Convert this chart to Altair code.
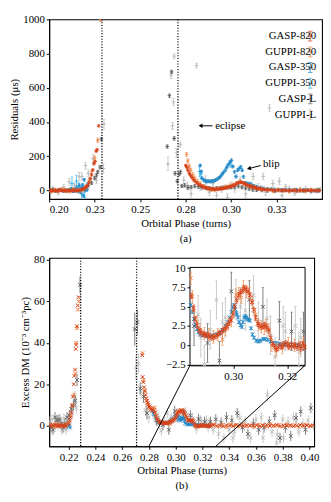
import altair as alt
import pandas as pd

SERIF = "Liberation Serif"
SERIES = ["GASP-820", "GUPPI-820", "GASP-350", "GUPPI-350", "GASP-L", "GUPPI-L"]
COLORS = ["#d4401a", "#f0894a", "#1f86c6", "#45baeb", "#5e5e5e", "#bcbcbc"]
DRAW_ORDER = ["GUPPI-L", "GASP-L", "GUPPI-350", "GASP-350", "GUPPI-820", "GASP-820"]

# ---------------- panel (a): timing residuals (us) ----------------
a_gasp820_x = [0.2005, 0.2015, 0.2025, 0.2035, 0.2045, 0.2055, 0.2065, 0.2075, 0.2085, 0.2095,
               0.2105, 0.2115, 0.2125, 0.2135, 0.2145, 0.2155, 0.2165, 0.2175,
               0.2183, 0.2190, 0.2197, 0.2204, 0.2211, 0.2218, 0.2226, 0.2233, 0.2240, 0.2246,
               0.2252, 0.2258, 0.2263, 0.2272,
               0.2751, 0.2757, 0.2763, 0.2770, 0.2777, 0.2785, 0.2793, 0.2802, 0.2812, 0.2822,
               0.2832, 0.2842, 0.2852, 0.2862, 0.2872, 0.2882, 0.2892, 0.2902, 0.2912, 0.2922,
               0.2932, 0.2942, 0.2952, 0.2962, 0.2972, 0.2982, 0.2992, 0.3002, 0.3012, 0.3022,
               0.3032, 0.3042, 0.3052, 0.3062, 0.3072, 0.3082, 0.3092, 0.3102, 0.3112, 0.3122,
               0.3132, 0.3142, 0.3152, 0.3162, 0.3172,
               0.3185, 0.3200, 0.3215, 0.3230, 0.3245, 0.3260, 0.3275, 0.3290, 0.3305, 0.3320,
               0.3335, 0.3350, 0.3365, 0.3380, 0.3395, 0.3410, 0.3425, 0.3440, 0.3455, 0.3470, 0.3485]
a_gasp820_v = [2, -3, 1, 0, -2, 3, -1, 0, 2, -4, 1, 0, -2, 3, 0, -1, 2, 4,
               6, 10, 15, 22, 30, 48, 70, 91, 120, 156, 170, 230, 238, 378,
               146, 135, 118, 100, 88, 75, 62, 54, 44, 36, 30, 25, 20, 17, 14, 11, 9, 7, 7, 8,
               9, 10, 12, 14, 16, 18, 21, 25, 28, 36, 42, 46, 48, 46, 42, 36, 31, 27, 24, 21,
               17, 13, 11, 9, 7,
               5, 3, 4, 2, 1, 3, 0, 2, -1, 1, 0, 2, -2, 1, 0, -1, 2, 0, 1, -1, 0]
a_gasp820_e = 6

a_guppi820_x = [0.2010, 0.2030, 0.2050, 0.2070, 0.2090, 0.2110, 0.2130, 0.2150, 0.2170, 0.2190,
                0.2205, 0.2222, 0.2233, 0.2250, 0.2267, 0.2283,
                0.2755, 0.2762, 0.2770, 0.2778, 0.2790, 0.2800, 0.2815, 0.2830, 0.2850, 0.2870,
                0.2890, 0.2910, 0.2930, 0.2950, 0.2970, 0.2990, 0.3010, 0.3030, 0.3050, 0.3070,
                0.3090, 0.3110, 0.3130, 0.3150, 0.3170, 0.3200, 0.3230, 0.3260, 0.3290, 0.3320,
                0.3350, 0.3380, 0.3410, 0.3440, 0.3470]
a_guppi820_v = [-4, 3, -2, 5, 0, -3, 4, 2, -1, 8, 20, 60, 109, 190, 294, 1000,
                211, 172, 142, 118, 92, 72, 52, 40, 22, 12, 6, 4, 10, 14, 20, 26, 32, 40, 50, 40,
                30, 24, 18, 12, 8, 4, -2, 3, 0, -3, 2, 1, -2, 3, 0]
a_guppi820_e = 12

a_gasp350_x = [0.2120, 0.2130, 0.2142, 0.2151, 0.2158, 0.2165, 0.2173, 0.2180, 0.2184, 0.2188,
               0.2192, 0.2196, 0.2202, 0.2208,
               0.2830, 0.2836, 0.2840, 0.2848, 0.2858, 0.2866, 0.2874, 0.2884, 0.2894, 0.2904,
               0.2914, 0.2924, 0.2934, 0.2942, 0.2950, 0.2958, 0.2968, 0.2976, 0.2984, 0.2993,
               0.3002, 0.3010, 0.3019, 0.3027, 0.3036, 0.3044, 0.3053, 0.3061, 0.3068, 0.3078,
               0.3090, 0.3100, 0.3112, 0.3125, 0.3140, 0.3163, 0.3180, 0.3200, 0.3220, 0.3240,
               0.3260, 0.3280, 0.3300, 0.3320, 0.3340, 0.3360, 0.3380, 0.3400, 0.3420, 0.3440,
               0.3460, 0.3480]
a_gasp350_v = [10, -5, 5, 17, -5, 31, -11, 20, 33, -30, 63, 0, 10, 5,
               146, 110, 72, 62, 55, 52, 55, 52, 55, 56, 60, 66, 75, 81, 95, 105, 118, 135, 150, 165,
               176, 140, 109, 81, 118, 128, 137, 118, 80, 44, 40, 38, 35, 28, 22, 17, 12, 9, 7, 5,
               4, 3, 2, 2, 1, 1, 0, 0, 1, 0, -1, 0]
a_gasp350_e = 8

a_guppi350_x = [0.2125, 0.2150, 0.2162, 0.2178, 0.2194, 0.2205, 0.2826, 0.2834, 0.2998]
a_guppi350_v = [40, 55, 15, -20, -40, 20, 110, 95, 150]
a_guppi350_e = [40, 35, 30, 30, 30, 25, 30, 25, 15]

a_gaspL_x = [0.2005, 0.2020, 0.2035, 0.2050, 0.2065, 0.2080, 0.2095, 0.2110, 0.2125, 0.2140,
             0.2155, 0.2170, 0.2185, 0.2200, 0.2215, 0.2233, 0.2250, 0.2260, 0.2267, 0.2280, 0.2287,
             0.2649, 0.2661, 0.2673, 0.2687, 0.2692, 0.2704, 0.2715, 0.2722, 0.2729, 0.2745,
             0.2763, 0.2780, 0.2800, 0.2820, 0.2840, 0.2860, 0.2880, 0.2900, 0.2920, 0.2940,
             0.2960, 0.2980, 0.3000, 0.3020, 0.3040, 0.3060, 0.3080, 0.3100, 0.3120, 0.3140,
             0.3170, 0.3200, 0.3240, 0.3280, 0.3320, 0.3360, 0.3400, 0.3440, 0.3480]
a_gaspL_v = [0, 3, -2, 1, 4, -3, 2, 0, 5, -1, 3, 8, 10, 15, 30, 44, 72, 90, 109, 137, 300,
             257, 554, 693, 304, 100, 54, 95, 109, 26, 30, 17, 20, 25, 22, 18, 15, 12, 10, 12, 14,
             16, 18, 20, 22, 25, 20, 15, 10, 5, 3, 2, 0, -3, 2, -1, 1, 0, -2, 1]
a_gaspL_e = 10

a_guppiL_x = [0.2020, 0.2050, 0.2080, 0.2110, 0.2140, 0.2165, 0.2179, 0.2199, 0.2215, 0.2241,
              0.2260, 0.2298, 0.2301,
              0.2653, 0.2670, 0.2678, 0.2683, 0.2687, 0.2700, 0.2721, 0.2740, 0.2760, 0.2780,
              0.2810, 0.2830, 0.2860, 0.2880, 0.2900, 0.2920, 0.2950, 0.2980, 0.3000, 0.3020,
              0.3050, 0.3080, 0.3110, 0.3121, 0.3150, 0.3177, 0.3190, 0.3211, 0.3230, 0.3265,
              0.3280, 0.3300, 0.3320, 0.3350, 0.3380, 0.3410, 0.3440, 0.3470, 0.3490]
a_guppiL_v = [10, -10, 20, 50, 30, 80, 82, 146, 100, 187, 60, 128, 387,
              156, 674, 378, 517, 785, 220, 267, 60, 30, -20, 730, 20, 60, -10, 40, -30, 10, -40,
              30, 10, 60, -20, 30, 82, 20, 82, -10, 483, 40, 54, -30, 20, 10, -15, 5, 10, -5, 0, 5]
a_guppiL_e = [15, 15, 15, 20, 15, 25, 20, 20, 20, 25, 20, 25, 30,
              40, 20, 20, 20, 15, 25, 15, 20, 20, 20, 15, 20, 25, 20, 20, 20, 20, 20,
              20, 20, 20, 20, 20, 20, 20, 20, 20, 20, 20, 20, 20, 15, 15, 15, 15, 15, 15, 15, 15]

# ---------------- panel (b): excess DM (1e-3 cm^-3 pc) ----------------
b_gasp820_x = [0.2060, 0.2070, 0.2080, 0.2090, 0.2100, 0.2110, 0.2120, 0.2130, 0.2140, 0.2150,
               0.2160, 0.2170, 0.2180, 0.2190, 0.2200, 0.2208, 0.2214, 0.2220, 0.2226, 0.2232,
               0.2238, 0.2243, 0.2248, 0.2253, 0.2257, 0.2262, 0.2268, 0.2274,
               0.2750, 0.2753, 0.2758, 0.2764, 0.2770, 0.2775, 0.2781, 0.2786, 0.2792, 0.2797,
               0.2803, 0.2808, 0.2815, 0.2822, 0.2830, 0.2838, 0.2845, 0.2852, 0.2859, 0.2866,
               0.2873, 0.2880, 0.2887, 0.2894, 0.2901, 0.2908, 0.2915, 0.2922, 0.2929, 0.2936,
               0.2943, 0.2950, 0.2957, 0.2964, 0.2971, 0.2978, 0.2985, 0.2992, 0.2999, 0.3006,
               0.3013, 0.3020, 0.3027, 0.3034, 0.3041, 0.3048, 0.3055, 0.3062, 0.3069, 0.3076,
               0.3083, 0.3090, 0.3097, 0.3104, 0.3111, 0.3118, 0.3125, 0.3132, 0.3139, 0.3146,
               0.3153, 0.3160, 0.3167, 0.3174, 0.3181, 0.3188, 0.3195, 0.3202, 0.3209, 0.3216,
               0.3223, 0.3230, 0.3237, 0.3244, 0.3251, 0.3258, 0.3265,
               0.3280, 0.3305, 0.3330, 0.3355, 0.3380, 0.3405, 0.3430, 0.3455, 0.3480, 0.3505,
               0.3530, 0.3555, 0.3580, 0.3605, 0.3630, 0.3655, 0.3680, 0.3705, 0.3730, 0.3755,
               0.3780, 0.3805, 0.3830, 0.3855, 0.3880, 0.3905, 0.3930, 0.3955, 0.3980, 0.4005, 0.4030]
b_gasp820_v = [0.2, -0.3, 0.4, -0.2, 0.1, 0.3, -0.4, 0.2, 0.0, -0.2, 0.3, 0.1, -0.3, 0.5, 1.0,
               2.5, 4.0, 6.5, 9.5, 14, 20, 24, 27, 37, 39, 48, 58, 62,
               34, 23.5, 21, 18.5, 16.5, 14.8, 13.2, 12.0, 11.0, 10.0, 9.2, 8.6, 8.0, 7.6, 7.3,
               7.2, 6.4, 4.8, 3.4, 2.6, 2.0, 1.7, 1.5, 1.4, 1.3, 1.3, 1.1, 1.0, 1.1, 1.2,
               1.4, 1.6, 1.8, 2.0, 2.2, 2.5, 2.9, 3.3, 4.0, 5.0, 5.8, 6.5, 6.9, 7.1, 7.4,
               7.3, 7.0, 6.5, 5.6, 4.6, 3.6, 2.8, 2.6, 2.4, 2.5, 2.6, 2.3, 1.9, 1.0, 0.2,
               -0.2, -0.5, -0.3, 0.0, -0.2, 0.1, 0.3, 0.0, -0.2, 0.1, -0.1, 0.0, -0.3, 0.1, -0.4,
               0.2, -0.2,
               0.3, -0.2, 0.1, -0.4, 0.2, 0.0, -0.3, 0.4, 0.1, -0.2, 0.3, -0.1, 0.0, 0.2, -0.3,
               0.1, 0.4, -0.2, 0.0, 0.3, -0.4, 0.1, -0.1, 0.2, -0.3, 0.0, 0.3, -0.2, 0.1, -0.1, 0.2]
b_gasp820_e = 0.35

b_guppi820_x = [0.2065, 0.2085, 0.2105, 0.2125, 0.2145, 0.2165, 0.2185, 0.2203, 0.2217, 0.2229,
                0.2240, 0.2250, 0.2256, 0.2262, 0.2270, 0.2276,
                0.2752, 0.2760, 0.2770, 0.2780, 0.2790, 0.2800, 0.2812, 0.2825, 0.2843, 0.2849,
                0.2855, 0.2866, 0.2877, 0.2893, 0.2910, 0.2927, 0.2943, 0.2960, 0.2971, 0.2982,
                0.2993, 0.3002, 0.3010, 0.3021, 0.3030, 0.3038, 0.3049, 0.3060, 0.3071, 0.3082,
                0.3093, 0.3104, 0.3115, 0.3121, 0.3132, 0.3143, 0.3160, 0.3182, 0.3204, 0.3227,
                0.3249, 0.3260, 0.3290, 0.3320, 0.3350, 0.3380, 0.3410, 0.3440, 0.3470, 0.3500,
                0.3530, 0.3560, 0.3590, 0.3620, 0.3650, 0.3680, 0.3710, 0.3740, 0.3770, 0.3800,
                0.3830, 0.3860, 0.3890, 0.3920, 0.3950, 0.3980, 0.4010]
b_guppi820_v = [0.5, -0.6, 0.8, -0.3, 0.4, -0.5, 0.6, 1.5, 5, 10, 15, 25, 40, 47, 56, 60,
                35, 22, 17, 12, 10, 9, 8.5, 8.2, 8.7, 6.3, 4.5, 3.0, 2.0, 1.5, 1.4, 1.1, 1.4, 0.8,
                2.1, 2.8, 3.2, 4.4, 6.5, 6.7, 6.2, 7.6, 7.0, 6.7, 5.6, 4.0, 2.7, 2.4, 2.2, 2.6,
                2.0, 0.0, -0.6, -0.3, 0.2, 0.0, -0.3, 0.3, 0.6, -0.5, 0.4, -0.7, 0.5, 0.2, -0.4,
                0.6, -0.3, 0.2, -0.6, 0.4, 0.1, -0.5, 0.7, -0.2, 0.3, -0.4, 0.5, -0.1, 0.3, -0.6,
                0.2, 0.4, -0.3]
b_guppi820_e = 0.8

b_gasp350_x = [0.2195, 0.2200, 0.2205, 0.2210,
               0.2825, 0.2833, 0.2838, 0.2843, 0.2849, 0.2855, 0.2860, 0.2866, 0.2872, 0.2877,
               0.2888, 0.2900, 0.2913, 0.2927, 0.2938, 0.2949, 0.2960, 0.2971, 0.2980, 0.2988,
               0.2994, 0.2999, 0.3003, 0.3007, 0.3011, 0.3014, 0.3018, 0.3021, 0.3027, 0.3032,
               0.3036, 0.3040, 0.3045, 0.3049, 0.3053, 0.3057, 0.3062, 0.3066, 0.3071, 0.3077,
               0.3085, 0.3093, 0.3101, 0.3110, 0.3118, 0.3127, 0.3138, 0.3149, 0.3160, 0.3171,
               0.3182, 0.3193, 0.3204, 0.3216, 0.3227, 0.3238, 0.3250]
b_gasp350_v = [0.0, -0.5, 0.0, -1.0,
               7.0, 6.1, 5.6, 5.2, 4.3, 3.4, 2.7, 2.1, 1.7, 1.4, 1.3, 1.2, 1.2, 1.3, 1.4, 1.6,
               2.0, 2.5, 3.0, 3.6, 4.3, 4.9, 5.2, 4.7, 4.2, 4.0, 3.6, 3.0, 2.6, 2.4, 3.0, 3.6,
               3.8, 3.6, 3.4, 3.3, 3.2, 2.2, 1.4, 1.0, 0.6, 0.5, 0.6, 0.8, 0.8, 0.7, 0.5, 0.3,
               0.3, 0.2, 0.1, 0.1, 0.1, 0.1, 0.0, 0.0, -0.1]
b_gasp350_e = 0.2

b_gaspL_x = [0.2068, 0.2083, 0.2098, 0.2113, 0.2128, 0.2143, 0.2158, 0.2173, 0.2188, 0.2205,
             0.2220, 0.2236, 0.2250, 0.2263, 0.2285,
             0.2694, 0.2714, 0.2735, 0.2760, 0.2785, 0.2855, 0.2905, 0.2949, 0.2993, 0.3060,
             0.3110, 0.3171, 0.3216, 0.3260, 0.3300, 0.3340, 0.3380, 0.3420, 0.3460, 0.3500,
             0.3540, 0.3580, 0.3620, 0.3660, 0.3700, 0.3740, 0.3780, 0.3820, 0.3860, 0.3900,
             0.3935, 0.3970, 0.4010]
b_gaspL_v = [-1, -2, 4, 2.5, 3, 1, -1, 1, 4, 5, 8, 10, 12, 22, 68,
             46.6, 50, 18, 14, 6, 2.5, 0.3, -2, 7, 5.9, 5, 3.2, 1.8, 1.8, 3, 1.5, 4, 2.5, 6, -1,
             -4, 1, -2, -1, 2, 5, -6, -1, -5, 3.7, 6.8, -2, 8.5]
b_gaspL_e = [2.5, 2.5, 2.5, 2.5, 2.5, 2.5, 2.5, 2.5, 2.5, 2.5, 2.5, 2.5, 2.5, 3, 4,
             8, 6, 3, 3, 3, 2.5, 2.5, 2.5, 2.5, 2.5, 2.5, 2.5, 2.5, 2.5, 2.5, 2.5, 2.5, 2.5,
             2.5, 2.5, 2.5, 2.5, 2.5, 2.5, 2.5, 2.5, 2.5, 2.5, 2.5, 2.5, 2.5, 2.5, 2.5]

b_guppiL_x = [0.2060, 0.2075, 0.2090, 0.2105, 0.2120, 0.2135, 0.2150, 0.2165, 0.2180, 0.2195,
              0.2213, 0.2228, 0.2245, 0.2257,
              0.2703, 0.2723, 0.2741, 0.2775, 0.2800, 0.2870, 0.2880, 0.2893, 0.2915, 0.2938,
              0.2960, 0.2971, 0.3010, 0.3027, 0.3045, 0.3075, 0.3093, 0.3125, 0.3138, 0.3155,
              0.3185, 0.3193, 0.3230, 0.3243, 0.3250, 0.3280, 0.3320, 0.3360, 0.3400, 0.3428,
              0.3440, 0.3479, 0.3520, 0.3560, 0.3600, 0.3640, 0.3653, 0.3686, 0.3720, 0.3754,
              0.3760, 0.3800, 0.3806, 0.3840, 0.3880, 0.3920, 0.3950, 0.3990, 0.4030]
b_guppiL_v = [2, 3, -1.1, 1, 0, 3, -2, 3.5, -2, 2, 3, 6, 14, 8.5,
              28, 30, 16.4, 7.6, 4, 4, 1.0, -2.5, 2.0, 5.9, 3.0, 3.6, 6.0, 5, 4.5, 6.5, 3.1, 3.5,
              1.3, -1.5, 2.5, 1.8, 2.5, -0.8, 1.0, -2, -4, -6, -2, -5.9, -3, 3.7, 2, -6, 3, 4,
              -5.9, 14.8, -3, -8.3, -4.3, 3, -5.9, 2, 4, -3, 1, 2.5, 0]
b_guppiL_e = [2.5, 2.5, 2.5, 2.5, 2.5, 2.5, 2.5, 2.5, 2.5, 2.5, 2.5, 2.5, 2.5, 2.5,
              6, 5, 3, 3, 3, 2.5, 2.5, 2.5, 2.5, 2.5, 2.5, 2.5, 2.5, 2.5, 2.5, 2.5, 2.5, 2.5,
              2.5, 2.5, 2.5, 2.5, 2.5, 2.5, 2.5, 2.5, 2.5, 2.5, 2.5, 2.5, 2.5, 2.5, 2.5, 2.5,
              2.5, 2.5, 2.5, 3, 2.5, 2.5, 2.5, 2.5, 2.5, 2.5, 2.5, 2.5, 2.5, 2.5, 2.5]

# eclipse boundaries (dotted lines) and annotations
eclipse_x = [0.2290, 0.2708]
a_notes_text = ["eclipse", "blip"]
a_notes_x = [0.2913, 0.3175]
a_notes_y = [378, 156]
a_arrow_tail_x = [0.2898, 0.3163]
a_arrow_tail_y = [378, 146]
a_arrow_head_x = [0.2832, 0.3098]
a_arrow_head_y = [378, 128]
a_arrow_angle = [270, 255]

# inset region (in main-panel data units) and its own axis domain
inset_main_x = [0.3107, 0.3967]
inset_main_y = [29.1, 76.4]
inset_dom_x = [0.284, 0.3266]
inset_dom_y = [-2.6, 10.1]
zoom_from_x = [0.28, 0.33]


def table(groups):
    rows = []
    for name, xs, vs, es in groups:
        for i, (x, v) in enumerate(zip(xs, vs)):
            e = es[i] if isinstance(es, list) else es
            rows.append({"series": name, "phase": x, "val": v, "lo": v - e, "hi": v + e})
    return pd.DataFrame(rows)


top_df = table([
    ("GASP-820", a_gasp820_x, a_gasp820_v, a_gasp820_e),
    ("GUPPI-820", a_guppi820_x, a_guppi820_v, a_guppi820_e),
    ("GASP-350", a_gasp350_x, a_gasp350_v, a_gasp350_e),
    ("GUPPI-350", a_guppi350_x, a_guppi350_v, a_guppi350_e),
    ("GASP-L", a_gaspL_x, a_gaspL_v, a_gaspL_e),
    ("GUPPI-L", a_guppiL_x, a_guppiL_v, a_guppiL_e),
])
bot_df = table([
    ("GASP-820", b_gasp820_x, b_gasp820_v, b_gasp820_e),
    ("GUPPI-820", b_guppi820_x, b_guppi820_v, b_guppi820_e),
    ("GASP-350", b_gasp350_x, b_gasp350_v, b_gasp350_e),
    ("GASP-L", b_gaspL_x, b_gaspL_v, b_gaspL_e),
    ("GUPPI-L", b_guppiL_x, b_guppiL_v, b_guppiL_e),
])

PLUS = "M-1,0L1,0M0,-1L0,1"
CROSS = "M-1,-1L1,1M-1,1L1,-1"
LEG_SYM = "M0,-1L0,1M-0.45,-1L0.45,-1M-0.45,1L0.45,1M-0.45,0L0.45,0"

W1, H1 = 278, 183
W2, H2 = 270, 192


def series_layers(df, X, yscale, yaxis, C, shape, size, caps, cap, extra_filter=None):
    Y = alt.Y("val:Q", scale=yscale, axis=yaxis)
    YLO = alt.Y("lo:Q", scale=yscale, axis=yaxis)
    YHI = alt.Y("hi:Q", scale=yscale, axis=yaxis)
    out = []
    for s in DRAW_ORDER:
        sub = alt.Chart(df).transform_filter(alt.datum.series == s)
        if extra_filter is not None:
            sub = sub.transform_filter(extra_filter)
        out.append(sub.mark_rule(strokeWidth=0.8, clip=True).encode(
            x=X, y=YLO, y2=alt.Y2("hi:Q"), color=C))
        if caps:
            out.append(sub.mark_tick(orient="horizontal", size=cap, thickness=0.8, clip=True)
                       .encode(x=X, y=YLO, color=C))
            out.append(sub.mark_tick(orient="horizontal", size=cap, thickness=0.8, clip=True)
                       .encode(x=X, y=YHI, color=C))
        out.append(sub.mark_point(shape=shape, filled=False, size=size, strokeWidth=1,
                                  opacity=1, clip=True).encode(x=X, y=Y, color=C))
    return out


# ---------------- top panel ----------------
tx_scale = alt.Scale(domain=[0.2, 0.35], nice=False, zero=False)
tx_axis = alt.Axis(values=[0.2, 0.225, 0.25, 0.275, 0.3, 0.325], format=".2f",
                   title="Orbital Phase (turns)")
ty_scale = alt.Scale(domain=[-50, 1000], nice=False, zero=False)
ty_axis = alt.Axis(values=[0, 200, 400, 600, 800, 1000], format="d", title="Residuals (μs)")
TX = alt.X("phase:Q", scale=tx_scale, axis=tx_axis)
TY = alt.Y("val:Q", scale=ty_scale, axis=ty_axis)
legend = alt.Legend(title=None, orient="none", legendX=W1 - 42, legendY=11,
                    symbolType=LEG_SYM, symbolSize=100, symbolStrokeWidth=1.1,
                    symbolOffset=24, labelFont=SERIF, labelFontSize=11, labelColor="black",
                    labelAlign="right", labelOffset=0, rowPadding=0)
TC = alt.Color("series:N", scale=alt.Scale(domain=SERIES, range=COLORS), legend=legend)

top_layers = series_layers(top_df, TX, ty_scale, ty_axis, TC, PLUS, 14, True, 3)

ecl = pd.DataFrame({"phase": eclipse_x})
top_layers.append(alt.Chart(ecl).mark_rule(strokeDash=[1.2, 1.6], strokeWidth=1.3, color="black")
                  .encode(x=TX))

notes = pd.DataFrame({"phase": a_notes_x, "val": a_notes_y, "text": a_notes_text})
top_layers.append(alt.Chart(notes).mark_text(align="left", baseline="middle", font=SERIF,
                                             fontSize=11, color="black")
                  .encode(x=TX, y=TY, text="text:N"))
arrows = pd.DataFrame({"phase": a_arrow_head_x, "val": a_arrow_head_y,
                       "phase2": a_arrow_tail_x, "val2": a_arrow_tail_y,
                       "angle": a_arrow_angle})
top_layers.append(alt.Chart(arrows).mark_rule(color="black", strokeWidth=1)
                  .encode(x=TX, y=TY, x2="phase2:Q", y2="val2:Q"))
top_layers.append(alt.Chart(arrows).mark_point(shape="triangle-up", filled=True, size=22,
                                               color="black", opacity=1)
                  .encode(x=TX, y=TY, angle=alt.Angle("angle:Q", scale=None)))

top = alt.layer(*top_layers).properties(
    width=W1, height=H1,
    title=alt.TitleParams("(a)", orient="bottom", anchor="middle", font=SERIF, fontSize=11,
                          fontWeight="normal", offset=5))

# ---------------- bottom panel ----------------
MX = [0.2055, 0.4035]
MY = [-10, 81]
bx_scale = alt.Scale(domain=MX, nice=False, zero=False)
bx_axis = alt.Axis(values=[0.22, 0.24, 0.26, 0.28, 0.30, 0.32, 0.34, 0.36, 0.38, 0.40],
                   format=".2f", title="Orbital Phase (turns)")
by_scale = alt.Scale(domain=MY, nice=False, zero=False)
by_axis = alt.Axis(values=[0, 20, 40, 60, 80], format="d", title="Excess DM (10⁻³ cm⁻³pc)")
BX = alt.X("phase:Q", scale=bx_scale, axis=bx_axis)
BY = alt.Y("val:Q", scale=by_scale, axis=by_axis)
BC = alt.Color("series:N", scale=alt.Scale(domain=SERIES, range=COLORS), legend=None)

main_layers = series_layers(bot_df, BX, by_scale, by_axis, BC, CROSS, 14, False, 3)
main_layers.append(alt.Chart(ecl).mark_rule(strokeDash=[1.2, 1.6], strokeWidth=1.3,
                                            color="black").encode(x=BX))
conn = pd.DataFrame({"phase": zoom_from_x, "val": [MY[0], MY[0]],
                     "phase2": inset_main_x, "val2": [inset_main_y[0], inset_main_y[0]]})
main_layers.append(alt.Chart(conn).mark_rule(color="black", strokeWidth=1)
                   .encode(x=BX, y=BY, x2="phase2:Q", y2="val2:Q"))
main = alt.layer(*main_layers)

# inset placement in pixels of the bottom plot area, derived from main data units
ix0 = (inset_main_x[0] - MX[0]) / (MX[1] - MX[0]) * W2
ix1 = (inset_main_x[1] - MX[0]) / (MX[1] - MX[0]) * W2
iyb = H2 * (1 - (inset_main_y[0] - MY[0]) / (MY[1] - MY[0]))
iyt = H2 * (1 - (inset_main_y[1] - MY[0]) / (MY[1] - MY[0]))

ix_scale = alt.Scale(domain=inset_dom_x, range=[ix0, ix1], nice=False, zero=False)
iy_scale = alt.Scale(domain=inset_dom_y, range=[iyb, iyt], nice=False, zero=False, clamp=True)
ix_axis = alt.Axis(orient="bottom", offset=iyb - H2, values=[0.30, 0.32], format=".2f",
                   title=None, grid=False)
iy_axis = alt.Axis(orient="left", offset=-ix0, values=[-2.5, 0, 2.5, 5, 7.5, 10],
                   format=".1~f", title=None, grid=False)
IX = alt.X("phase:Q", scale=ix_scale, axis=ix_axis)
IY = alt.Y("val:Q", scale=iy_scale, axis=iy_axis)

box = pd.DataFrame({"phase": [inset_dom_x[0]], "phase2": [inset_dom_x[1]],
                    "val": [inset_dom_y[0]], "val2": [inset_dom_y[1]]})
inset_layers = [alt.Chart(box).mark_rect(fill="white", stroke="black", strokeWidth=1)
                .encode(x=IX, x2="phase2:Q", y=IY, y2="val2:Q")]
inset_layers += series_layers(bot_df, IX, iy_scale, iy_axis, BC, CROSS, 14, True, 2.5,
                              extra_filter=alt.FieldRangePredicate(field="phase",
                                                                   range=inset_dom_x))
inset = alt.layer(*inset_layers)

bottom = alt.layer(main, inset).resolve_scale(x="independent", y="independent").properties(
    width=W2, height=H2,
    title=alt.TitleParams("(b)", orient="bottom", anchor="middle", font=SERIF, fontSize=11,
                          fontWeight="normal", offset=5))

chart = alt.vconcat(top, bottom, spacing=8).properties(
    padding={"left": 0, "top": 0, "right": 0, "bottom": 0}
).configure_axis(
    labelFont=SERIF, titleFont=SERIF, labelFontSize=11, titleFontSize=11,
    titleFontWeight="normal", labelColor="black", titleColor="black", tickColor="black",
    domainColor="black", tickSize=3, grid=False, labelPadding=2, titlePadding=3
).configure_view(stroke="black", strokeWidth=1.1)

chart.save("out.html", embed_options={"renderer": "svg", "actions": False})
